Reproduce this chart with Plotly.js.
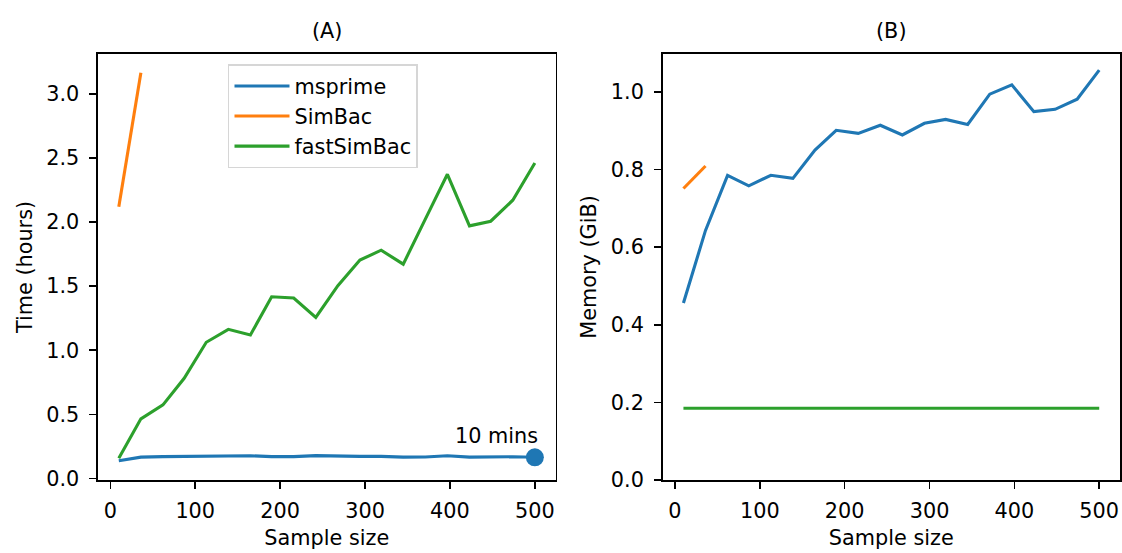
<!DOCTYPE html>
<html>
<head>
<meta charset="utf-8">
<script src="https://cdn.plot.ly/plotly-3.0.1.min.js"></script>
<style>
  html, body { margin: 0; padding: 0; background: #fff; }
  #chart { width: 1122px; height: 553px; }
</style>
</head>
<body>
<div id="chart"></div>
<script>
// Sample sizes shared by every series
const sampleSize = [10, 36, 62, 87, 113, 139, 165, 190, 216, 242,
                    268, 294, 319, 345, 371, 397, 423, 448, 474, 500];
const simbacSize = [10, 36];

// (A) run time in hours
const timeMsprime = [0.138, 0.166, 0.170, 0.172, 0.174, 0.175, 0.177, 0.170, 0.170, 0.178,
                     0.172, 0.172, 0.172, 0.166, 0.167, 0.177, 0.166, 0.170, 0.169, 0.165];
const timeSimbac = [2.118, 3.164];
const timeFastSimbac = [0.158, 0.465, 0.574, 0.781, 1.062, 1.163, 1.119, 1.417, 1.407, 1.256,
                        1.503, 1.703, 1.780, 1.671, 2.022, 2.372, 1.970, 2.006, 2.170, 2.460];

// (B) memory in GiB
const memMsprime = [0.456, 0.643, 0.785, 0.758, 0.785, 0.777, 0.850, 0.901, 0.893, 0.914,
                    0.889, 0.919, 0.929, 0.916, 0.994, 1.018, 0.949, 0.955, 0.981, 1.056];
const memSimbac = [0.751, 0.809];
const memFastSimbac = [0.185, 0.185, 0.185, 0.185, 0.185, 0.185, 0.185, 0.185, 0.185, 0.185,
                       0.185, 0.185, 0.185, 0.185, 0.185, 0.185, 0.185, 0.185, 0.185, 0.185];

const seriesNames = ["msprime", "SimBac", "fastSimBac"];
const annotText = "10 mins";

const COLORS = ["#1f77b4", "#ff7f0e", "#2ca02c"];
const FONT = "DejaVu Sans, Liberation Sans, sans-serif";
const FS = 20.8;
const LW = 3.1;

function line(x, y, i, xa, ya, showlegend) {
    return {
        x, y,
        type: "scatter",
        mode: "lines",
        name: seriesNames[i],
        legendgroup: seriesNames[i],
        showlegend,
        line: { color: COLORS[i], width: LW },
        xaxis: xa,
        yaxis: ya,
        hoverinfo: "skip",
    };
}

const lastIdx = sampleSize.length - 1;
const traces = [
    line(sampleSize, timeMsprime, 0, "x", "y", true),
    line(simbacSize, timeSimbac, 1, "x", "y", true),
    line(sampleSize, timeFastSimbac, 2, "x", "y", true),
    {
        x: [sampleSize[lastIdx]],
        y: [timeMsprime[lastIdx]],
        type: "scatter",
        mode: "markers",
        marker: { color: COLORS[0], size: 18 },
        showlegend: false,
        hoverinfo: "skip",
        xaxis: "x", yaxis: "y",
    },
    line(sampleSize, memMsprime, 0, "x2", "y2", false),
    line(simbacSize, memSimbac, 1, "x2", "y2", false),
    line(sampleSize, memFastSimbac, 2, "x2", "y2", false),
];

const axisBase = {
    showline: true,
    mirror: true,
    linecolor: "#000",
    linewidth: 1.6,
    ticks: "outside",
    ticklen: 7,
    tickwidth: 1.6,
    tickcolor: "#000",
    showgrid: false,
    zeroline: false,
    tickfont: { family: FONT, size: FS, color: "#000" },
    automargin: false,
};

const xAxis = (domain, anchor) => Object.assign({}, axisBase, {
    domain, anchor,
    range: [-14.5, 524.5],
    tickvals: [0, 100, 200, 300, 400, 500],
    ticklabelstandoff: 4,
    title: { text: "Sample size", font: { family: FONT, size: FS, color: "#000" }, standoff: 9 },
});

const layout = {
    width: 1122,
    height: 553,
    margin: { l: 98.4, r: 2.2, t: 53.5, b: 72.7 },
    paper_bgcolor: "#fff",
    plot_bgcolor: "#fff",
    font: { family: FONT, size: FS, color: "#000" },
    xaxis: xAxis([0, 0.4478], "y"),
    xaxis2: xAxis([0.5525, 1], "y2"),
    yaxis: Object.assign({}, axisBase, {
        domain: [0, 1], anchor: "x",
        range: [-0.012, 3.31],
        tickvals: [0, 0.5, 1, 1.5, 2, 2.5, 3],
        tickformat: ".1f",
        ticklabelstandoff: 6,
        title: { text: "Time (hours)", font: { family: FONT, size: FS, color: "#000" }, standoff: 8 },
    }),
    yaxis2: Object.assign({}, axisBase, {
        domain: [0, 1], anchor: "x2",
        range: [0, 1.0975],
        tickvals: [0, 0.2, 0.4, 0.6, 0.8, 1.0],
        tickformat: ".1f",
        ticklabelstandoff: 6,
        title: { text: "Memory (GiB)", font: { family: FONT, size: FS, color: "#000" }, standoff: 8 },
    }),
    showlegend: true,
    legend: {
        x: 0.1272, y: 0.9754,
        xanchor: "left", yanchor: "top",
        bgcolor: "#fff",
        bordercolor: "#d6d6d6",
        borderwidth: 1.5,
        font: { family: FONT, size: FS, color: "#000" },
        itemwidth: 55,
        traceorder: "normal",
    },
    annotations: [
        {
            text: "(A)", xref: "paper", yref: "paper",
            x: 0.2239, y: 1.0551, xanchor: "center", yanchor: "middle",
            showarrow: false, font: { family: FONT, size: FS, color: "#000" },
        },
        {
            text: "(B)", xref: "paper", yref: "paper",
            x: 0.77625, y: 1.0551, xanchor: "center", yanchor: "middle",
            showarrow: false, font: { family: FONT, size: FS, color: "#000" },
        },
        {
            text: annotText, xref: "x", yref: "y",
            x: sampleSize[lastIdx], y: timeMsprime[lastIdx],
            xanchor: "right", yanchor: "bottom",
            xshift: 5, yshift: 7,
            showarrow: false, font: { family: FONT, size: FS, color: "#000" },
        },
    ],
};

Plotly.newPlot("chart", traces, layout, { displayModeBar: false, staticPlot: true });
</script>
</body>
</html>
